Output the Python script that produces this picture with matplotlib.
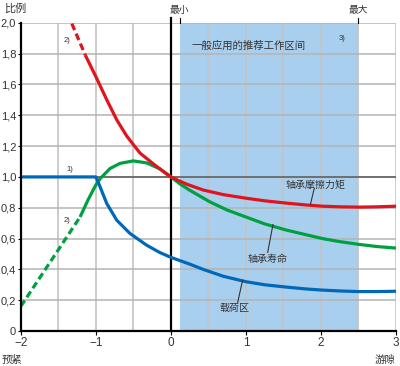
import matplotlib
matplotlib.use("Agg")
import matplotlib.pyplot as plt

plt.rcParams['font.family'] = ['Liberation Sans', 'Noto Sans CJK SC', 'DejaVu Sans']

# data
red_dash_x = [-1.32, -1.14]
red_dash_y = [1.995, 1.79]
red_x = [-1.14, -0.987, -0.854, -0.721, -0.588, -0.412, -0.235, -0.1, 0.0, 0.2, 0.43, 0.7, 1.0, 1.25, 1.54, 1.8, 2.02, 2.25, 2.51, 2.75, 3.0]
red_y = [1.79, 1.638, 1.5, 1.37, 1.265, 1.155, 1.085, 1.035, 1.0, 0.955, 0.915, 0.885, 0.862, 0.845, 0.83, 0.818, 0.81, 0.806, 0.804, 0.806, 0.81]

green_dash_x = [-2.0, -1.21]
green_dash_y = [0.16, 0.74]
green_x = [-1.21, -1.1, -1.0, -0.94, -0.81, -0.677, -0.5, -0.323, -0.146, 0.0, 0.12, 0.25, 0.52, 0.75, 1.0, 1.25, 1.54, 1.8, 2.02, 2.25, 2.51, 2.75, 3.0]
green_y = [0.74, 0.855, 0.948, 0.99, 1.055, 1.088, 1.104, 1.091, 1.052, 1.0, 0.955, 0.914, 0.838, 0.785, 0.74, 0.695, 0.655, 0.625, 0.60, 0.58, 0.562, 0.548, 0.538]

blue_x = [-2.0, -1.0, -0.943, -0.854, -0.721, -0.545, -0.323, -0.15, 0.0, 0.252, 0.43, 0.7, 1.0, 1.25, 1.54, 1.8, 2.0, 2.25, 2.5, 2.75, 3.0]
blue_y = [1.0, 1.0, 0.935, 0.827, 0.719, 0.633, 0.557, 0.51, 0.478, 0.434, 0.4, 0.355, 0.32, 0.3, 0.285, 0.273, 0.266, 0.26, 0.256, 0.256, 0.258]

zone = [0.12, 2.5]
y_ticks = [0, 0.2, 0.4, 0.6, 0.8, 1.0, 1.2, 1.4, 1.6, 1.8, 2.0]
y_labels = ["0", "0,2", "0,4", "0,6", "0,8", "1,0", "1,2", "1,4", "1,6", "1,8", "2,0"]
x_ticks = [-2, -1, 0, 1, 2, 3]

RED = '#e0141e'
GREEN = '#00a040'
BLUE = '#0068b8'
TXT = '#333333'

fig = plt.figure(figsize=(4.0, 3.66), dpi=100)
ax = fig.add_axes([0.052, 0.0956, 0.938, 0.842])
ax.set_xlim(-2, 3)
ax.set_ylim(0, 2.0)

# recommended zone
ax.axvspan(zone[0], zone[1], color='#a9cfee', zorder=0, lw=0)

# grid
for gx in [-1.5, -1.0, -0.5, 0.5, 1.0, 1.5, 2.0, 2.5, 3.0]:
    ax.axvline(gx, color='#c4c4c4', lw=1.2, zorder=1)
for gy in y_ticks[1:]:
    ax.axhline(gy, color='#b4b4b4', lw=1.1, zorder=1)
ax.axhline(1.0, color='#6a6a6a', lw=1.3, zorder=1)

# x=0 line
ax.plot([0, 0], [0, 2.03], color='black', lw=1.6, clip_on=False, zorder=2)
for zx in zone:
    ax.plot([zx, zx], [2.0, 2.03], color='black', lw=0.8, clip_on=False, zorder=2)

# curves
ax.plot(red_dash_x, red_dash_y, color=RED, lw=2.3, ls=(0, (2.2, 1.2)), zorder=4)
ax.plot(red_x, red_y, color=RED, lw=2.3, zorder=4, solid_capstyle='butt')
ax.plot(green_dash_x, green_dash_y, color=GREEN, lw=2.3, ls=(0, (2.2, 1.2)), zorder=3)
ax.plot(green_x, green_y, color=GREEN, lw=2.3, zorder=3, solid_capstyle='butt')
ax.plot(blue_x, blue_y, color=BLUE, lw=2.3, zorder=3, solid_capstyle='butt')

# spines / ticks
for s in ['top', 'right']:
    ax.spines[s].set_visible(False)
for s in ['left', 'bottom']:
    ax.spines[s].set_color('black')
    ax.spines[s].set_linewidth(1.6)
    ax.spines[s].set_zorder(5)
ax.set_yticks(y_ticks)
ax.set_yticklabels(y_labels)
ax.set_xticks(x_ticks)
ax.tick_params(length=3, width=0.8, colors='black', labelcolor=TXT, labelsize=8.5, pad=1.5)
ax.tick_params(axis='y', length=2.5, labelsize=8, pad=0.8)

# labels
fs_cn = 7.2
ax.text(-2.22, 2.06, '比例', fontsize=8, color=TXT, ha='left', va='bottom', clip_on=False)
ax.text(0.11, 2.05, '最小', fontsize=7, color=TXT, ha='center', va='bottom', clip_on=False)
ax.text(2.5, 2.05, '最大', fontsize=7, color=TXT, ha='center', va='bottom', clip_on=False)
ax.text(-2.25, -0.19, '预紧', fontsize=7.5, color=TXT, ha='left', va='center', clip_on=False)
ax.text(2.99, -0.19, '游隙', fontsize=7.5, color=TXT, ha='right', va='center', clip_on=False)
ax.text(1.04, 1.853, '一般应用的推荐工作区间', fontsize=7.5, color=TXT, ha='center', va='center')
ax.text(2.28, 1.90, '3)', fontsize=5.5, color=TXT, ha='center', va='center')
ax.text(-1.34, 1.05, '1)', fontsize=5.5, color=TXT, ha='center', va='center')
ax.text(-1.38, 1.886, '2)', fontsize=5.5, color=TXT, ha='center', va='center')
ax.text(-1.385, 0.72, '2)', fontsize=5.5, color=TXT, ha='center', va='center')

ax.text(1.53, 0.95, '轴承摩擦力矩', fontsize=fs_cn, color=TXT, ha='left', va='center', zorder=6)
ax.plot([1.86, 1.91], [0.822, 0.925], color=TXT, lw=0.8, zorder=6)
ax.text(1.29, 0.467, '轴承寿命', fontsize=fs_cn, color=TXT, ha='center', va='center', zorder=6)
ax.plot([1.36, 1.29], [0.69, 0.51], color=TXT, lw=0.8, zorder=6)
ax.text(0.85, 0.149, '载荷区', fontsize=fs_cn, color=TXT, ha='center', va='center', zorder=6)
ax.plot([0.956, 0.89], [0.33, 0.185], color=TXT, lw=0.8, zorder=6)

fig.savefig('out.png', dpi=100)
